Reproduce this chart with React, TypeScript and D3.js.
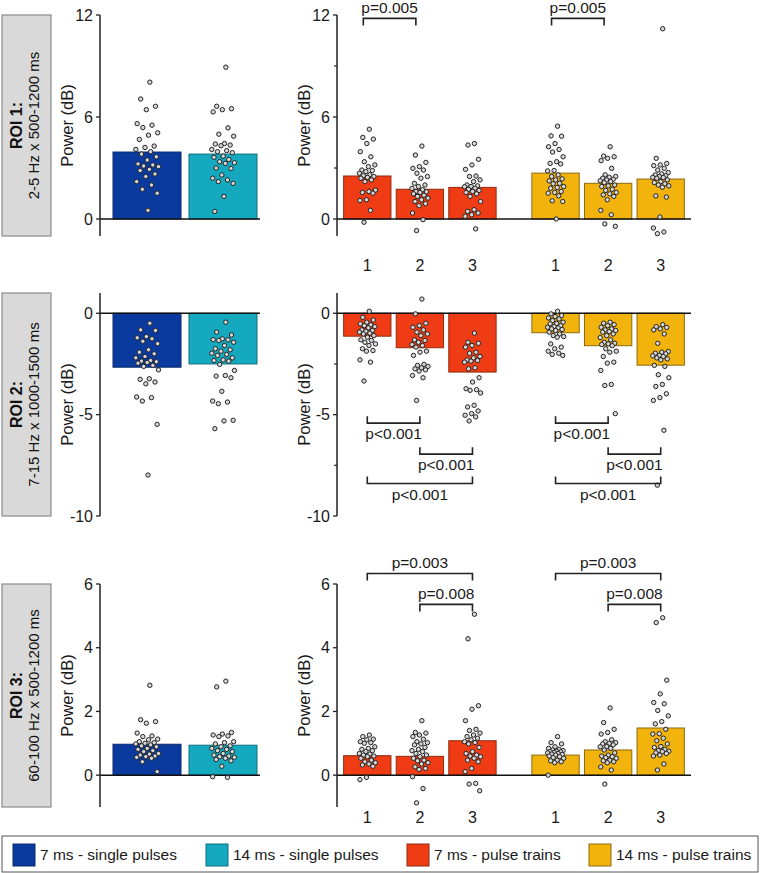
import React, { useEffect } from 'react';
import * as d3 from 'd3';

const FONT = '"Liberation Sans", Arial, sans-serif';
const W = 761;
const H = 873;

const singleConds = ['7 ms - single pulses', '14 ms - single pulses'];
const trainConds = ['7 ms - pulse trains', '14 ms - pulse trains'];
const trainCounts = ['1', '2', '3'];
const condColors = ['#0b3a9f', '#15a9bf', '#f03c14', '#f2b40c'];
const condStrokes = ['#0a2a6e', '#0e6f7e', '#8e2a0e', '#8a6a0e'];

const roiNames = ['ROI 1:', 'ROI 2:', 'ROI 3:'];
const roiRanges = ['2-5 Hz x 500-1200 ms', '7-15 Hz x 1000-1500 ms', '60-100 Hz x 500-1200 ms'];
const roiDomains = [[-1, 12], [-10, 1], [-1, 6]];
const roiTicks = [[0, 6, 12], [-10, -5, 0], [0, 2, 4, 6]];
const roiMinorTicks = [[3, 9], [-7.5, -2.5], []];

// bar heights (means)
const roi1SingleMeans = [3.94, 3.82];
const roi1TrainMeans = [[2.53, 1.75, 1.86], [2.7, 2.1, 2.35]];
const roi2SingleMeans = [-2.66, -2.5];
const roi2TrainMeans = [[-1.13, -1.7, -2.9], [-0.96, -1.6, -2.56]];
const roi3SingleMeans = [0.97, 0.94];
const roi3TrainMeans = [[0.61, 0.59, 1.08], [0.63, 0.79, 1.48]];

// individual subjects
const roi1Single7 = [8.05, 7.06, 6.63, 6.43, 5.61, 5.52, 5.38, 5.07, 4.93, 4.68, 4.29, 4.21, 4.09, 3.96, 3.82, 3.66, 3.47, 3.24, 3.18, 3.12, 3.08, 2.92, 2.85, 2.65, 2.5, 2.2, 2.0, 1.75, 1.52, 0.51];
const roi1Single14 = [8.93, 6.63, 6.49, 6.43, 6.3, 5.36, 4.99, 4.87, 4.44, 4.41, 4.35, 4.31, 4.09, 4.02, 3.96, 3.9, 3.7, 3.63, 3.5, 3.37, 3.31, 3.27, 3.0, 2.98, 2.59, 2.4, 2.3, 2.2, 2.1, 1.33, 0.45];
const roi1Train7 = [
  [5.28, 4.8, 4.7, 4.44, 3.96, 3.66, 3.37, 3.18, 3.08, 2.88, 2.85, 2.79, 2.69, 2.6, 2.55, 2.5, 2.45, 2.4, 2.3, 2.2, 1.7, 1.62, 1.56, 1.52, 1.13, 1.09, 0.51, -0.19],
  [4.29, 3.76, 3.33, 3.08, 2.98, 2.88, 2.69, 2.5, 2.4, 2.1, 2.0, 1.91, 1.8, 1.72, 1.62, 1.6, 1.56, 1.48, 1.4, 1.33, 1.23, 1.13, 1.03, 0.9, 0.78, 0.35, -0.04, -0.68],
  [4.44, 4.35, 3.51, 3.18, 2.92, 2.53, 2.5, 2.3, 2.2, 2.0, 1.95, 1.91, 1.9, 1.81, 1.75, 1.68, 1.62, 1.56, 1.48, 1.33, 1.03, 0.55, 0.45, 0.35, 0.25, 0.16, -0.58],
];
const roi1Train14 = [
  [5.46, 4.89, 4.87, 4.44, 4.25, 4.09, 3.94, 3.66, 3.37, 3.27, 3.24, 2.85, 2.83, 2.59, 2.5, 2.36, 2.3, 2.24, 2.1, 2.07, 1.91, 1.85, 1.81, 1.62, 1.56, 1.52, 1.36, 1.07, 1.03, 0.0],
  [4.25, 3.7, 3.66, 3.57, 3.43, 2.98, 2.6, 2.5, 2.46, 2.4, 2.34, 2.3, 2.25, 2.2, 2.14, 2.0, 1.95, 1.91, 1.75, 1.68, 1.56, 1.48, 1.42, 1.33, 1.13, 0.51, 0.25, -0.29, -0.43],
  [11.19, 3.57, 3.27, 3.18, 3.14, 2.98, 2.88, 2.73, 2.65, 2.59, 2.55, 2.5, 2.45, 2.44, 2.4, 2.3, 2.2, 2.14, 2.07, 2.0, 1.95, 1.87, 1.36, 1.29, 0.12, -0.53, -0.76, -0.86],
];

const roi2Single7 = [-0.49, -0.82, -0.85, -1.15, -1.21, -1.26, -1.38, -1.5, -1.8, -1.92, -2.0, -2.13, -2.2, -2.33, -2.36, -2.39, -2.43, -2.46, -2.57, -2.62, -2.79, -3.23, -3.26, -3.39, -3.48, -4.13, -4.16, -4.33, -5.48, -7.98];
const roi2Single14 = [-0.44, -0.93, -1.07, -1.26, -1.3, -1.31, -1.34, -1.43, -1.59, -1.75, -1.8, -1.87, -1.97, -2.03, -2.08, -2.2, -2.3, -2.33, -2.36, -2.52, -2.82, -3.07, -3.1, -3.18, -3.85, -4.33, -4.38, -4.46, -5.28, -5.31, -5.69];
const roi2Train7 = [
  [0.1, -0.2, -0.33, -0.44, -0.52, -0.57, -0.61, -0.66, -0.72, -0.82, -0.85, -0.89, -0.93, -0.98, -1.02, -1.1, -1.18, -1.31, -1.34, -1.43, -1.51, -1.59, -1.75, -1.84, -1.87, -2.3, -2.41, -3.34],
  [0.7, -0.03, -0.49, -0.61, -0.69, -0.82, -0.93, -1.02, -1.1, -1.31, -1.34, -1.43, -1.54, -1.59, -1.67, -1.87, -1.92, -2.08, -2.52, -2.57, -2.62, -2.69, -2.74, -2.79, -2.85, -3.07, -3.18, -4.3],
  [-0.98, -1.43, -1.48, -1.59, -1.67, -1.92, -1.97, -2.13, -2.2, -2.3, -2.33, -2.36, -2.41, -2.69, -2.74, -3.18, -3.39, -3.72, -3.77, -3.8, -3.93, -4.54, -4.62, -4.82, -4.95, -5.03, -5.11, -5.31],
];
const roi2Train14 = [
  [0.1, -0.03, -0.11, -0.16, -0.23, -0.28, -0.36, -0.44, -0.5, -0.52, -0.61, -0.65, -0.69, -0.72, -0.77, -0.8, -0.85, -0.93, -1.02, -1.1, -1.15, -1.18, -1.51, -1.67, -1.75, -1.87, -1.97, -2.03, -2.08],
  [-0.44, -0.49, -0.56, -0.61, -0.69, -0.77, -0.82, -0.85, -0.9, -0.93, -1.02, -1.1, -1.2, -1.31, -1.43, -1.48, -1.51, -1.54, -1.6, -1.75, -1.87, -1.92, -2.13, -2.41, -2.46, -2.82, -3.51, -3.56, -4.95],
  [-0.56, -0.66, -0.7, -0.77, -0.82, -1.02, -1.48, -1.89, -1.92, -1.97, -2.0, -2.08, -2.1, -2.13, -2.2, -2.25, -2.3, -2.57, -2.62, -3.03, -3.18, -3.51, -3.61, -3.97, -4.16, -4.3, -5.77, -8.48],
];

const roi3Single7 = [2.82, 1.74, 1.68, 1.63, 1.32, 1.23, 1.21, 1.13, 1.11, 1.05, 1.02, 1.0, 0.98, 0.95, 0.92, 0.89, 0.84, 0.81, 0.77, 0.74, 0.68, 0.66, 0.63, 0.6, 0.58, 0.56, 0.53, 0.42, 0.11];
const roi3Single14 = [2.95, 2.77, 1.34, 1.29, 1.26, 1.23, 1.21, 1.05, 1.02, 0.98, 0.92, 0.89, 0.84, 0.81, 0.77, 0.74, 0.68, 0.63, 0.6, 0.58, 0.56, 0.53, 0.49, 0.45, 0.28, -0.05, -0.07];
const roi3Train7 = [
  [1.26, 1.21, 1.13, 1.11, 1.05, 1.02, 1.0, 0.89, 0.84, 0.81, 0.77, 0.74, 0.68, 0.66, 0.63, 0.6, 0.58, 0.53, 0.47, 0.42, 0.39, 0.35, 0.32, 0.28, -0.07, -0.14],
  [1.71, 1.34, 1.32, 1.26, 1.21, 1.13, 1.05, 1.02, 0.98, 0.95, 0.87, 0.81, 0.77, 0.74, 0.68, 0.63, 0.58, 0.53, 0.47, 0.45, 0.39, 0.35, 0.26, 0.21, 0.18, -0.05, -0.42, -0.87],
  [5.05, 4.28, 2.18, 2.07, 1.71, 1.44, 1.4, 1.32, 1.26, 1.21, 1.16, 1.11, 1.05, 1.02, 0.98, 0.87, 0.74, 0.68, 0.63, 0.6, 0.58, 0.53, 0.47, 0.42, 0.21, 0.11, -0.26, -0.28, -0.49],
];
const roi3Train14 = [
  [1.21, 1.02, 0.98, 0.89, 0.84, 0.81, 0.79, 0.77, 0.75, 0.74, 0.73, 0.71, 0.7, 0.68, 0.66, 0.65, 0.63, 0.6, 0.58, 0.55, 0.53, 0.47, 0.45, 0.42, 0.39, 0.0],
  [2.11, 1.65, 1.44, 1.34, 1.29, 1.11, 1.05, 1.02, 1.0, 0.98, 0.95, 0.9, 0.89, 0.84, 0.79, 0.7, 0.63, 0.6, 0.58, 0.55, 0.53, 0.47, 0.45, 0.42, 0.39, 0.26, 0.16, -0.28],
  [4.94, 4.79, 2.98, 2.55, 2.28, 2.24, 2.03, 1.86, 1.68, 1.61, 1.44, 1.3, 1.29, 1.16, 1.08, 0.98, 0.9, 0.87, 0.81, 0.77, 0.75, 0.74, 0.7, 0.68, 0.63, 0.6, 0.35, 0.16],
];

// significance brackets: group index, from/to stimulus count, level (dB)
const roi1Brackets = [
  { group: 0, a: '1', b: '2', level: 11.8, label: 'p=0.005', above: true },
  { group: 1, a: '1', b: '2', level: 11.8, label: 'p=0.005', above: true },
];
const roi2Brackets = [
  { group: 0, a: '1', b: '2', level: -5.42, label: 'p<0.001', above: false },
  { group: 0, a: '2', b: '3', level: -6.95, label: 'p<0.001', above: false },
  { group: 0, a: '1', b: '3', level: -8.4, label: 'p<0.001', above: false },
  { group: 1, a: '1', b: '2', level: -5.42, label: 'p<0.001', above: false },
  { group: 1, a: '2', b: '3', level: -6.95, label: 'p<0.001', above: false },
  { group: 1, a: '1', b: '3', level: -8.4, label: 'p<0.001', above: false },
];
const roi3Brackets = [
  { group: 0, a: '1', b: '3', level: 6.33, label: 'p=0.003', above: true },
  { group: 0, a: '2', b: '3', level: 5.36, label: 'p=0.008', above: true },
  { group: 1, a: '1', b: '3', level: 6.33, label: 'p=0.003', above: true },
  { group: 1, a: '2', b: '3', level: 5.36, label: 'p=0.008', above: true },
];

const rowsData = [
  { singles: [roi1Single7, roi1Single14], singleMeans: roi1SingleMeans, trains: [roi1Train7, roi1Train14], trainMeans: roi1TrainMeans, brackets: roi1Brackets },
  { singles: [roi2Single7, roi2Single14], singleMeans: roi2SingleMeans, trains: [roi2Train7, roi2Train14], trainMeans: roi2TrainMeans, brackets: roi2Brackets },
  { singles: [roi3Single7, roi3Single14], singleMeans: roi3SingleMeans, trains: [roi3Train7, roi3Train14], trainMeans: roi3TrainMeans, brackets: roi3Brackets },
];

// layout
const rowLayout = [
  { top: 15, bottom: 236, countsY: 271, bracketShift: -4 },
  { top: 293, bottom: 516, countsY: null, bracketShift: 0 },
  { top: 584, bottom: 807, countsY: 823, bracketShift: 0 },
];
const leftAxisX = 100;
const rightAxisX = 337;

const xSingle = d3.scaleBand().domain(singleConds).range([109, 261]).paddingInner(0.105).paddingOuter(0.0526);
const xGroup = d3.scaleBand().domain(trainConds).range([341, 687]).paddingInner(0.162);
const xCount = d3.scaleBand().domain(trainCounts).range([0, xGroup.bandwidth()]).paddingInner(0.1).paddingOuter(0.05);

const jitter = (i: number, spread: number) => (((i * 0.6180339) % 1) - 0.5) * 2 * spread;

function Dots({ values, cx, spread, y }: any) {
  return (
    <g>
      {values.map((v: number, i: number) => (
        <circle key={i} cx={cx + jitter(i + 1, spread)} cy={y(v)} r={2.2}
          fill="#d6d6d6" stroke="#222" strokeWidth={1} />
      ))}
    </g>
  );
}

function YAxis({ x, y, ticks, minor, domain }: any) {
  return (
    <g>
      <line x1={x} x2={x} y1={y(domain[1])} y2={y(domain[0])} stroke="#222" strokeWidth={1.5} />
      {ticks.map((t: number) => (
        <g key={t}>
          <line x1={x - 4} x2={x} y1={y(t)} y2={y(t)} stroke="#222" strokeWidth={1.3} />
          <text x={x - 7} y={y(t)} dy="0.36em" textAnchor="end" fontSize={16} fill="#1a1a1a">{t}</text>
        </g>
      ))}
      {minor.map((t: number) => (
        <line key={t} x1={x - 3} x2={x} y1={y(t)} y2={y(t)} stroke="#222" strokeWidth={1.2} />
      ))}
      <text transform={`translate(${x - 33},${(y(domain[0]) + y(domain[1])) / 2}) rotate(-90)`}
        textAnchor="middle" dy="0.35em" fontSize={16.5} fill="#1a1a1a">Power (dB)</text>
    </g>
  );
}

function Row({ r }: { r: number }) {
  const lay = rowLayout[r];
  const dom = roiDomains[r];
  const data = rowsData[r];
  const y = d3.scaleLinear().domain(dom).range([lay.bottom, lay.top]);
  const y0 = y(0);
  const boxMid = (lay.top + lay.bottom) / 2;
  const barRect = (x0: number, w: number, v: number, ci: number, key: string) => (
    <rect key={key} x={x0} width={w} y={Math.min(y(v), y0)} height={Math.abs(y(v) - y0)}
      fill={condColors[ci]} stroke={condStrokes[ci]} strokeWidth={1} />
  );
  const cxTrain = (g: number, c: string) => (xGroup(trainConds[g]) as number) + (xCount(c) as number) + xCount.bandwidth() / 2;

  return (
    <g>
      {/* ROI label box */}
      <rect x={2} y={lay.top} width={49} height={lay.bottom - lay.top} fill="#d9d9d9" stroke="#8a8a8a" strokeWidth={1.2} />
      <text transform={`translate(16,${boxMid}) rotate(-90)`} textAnchor="middle" dy="0.35em" fontSize={16} fontWeight="bold" fill="#111">{roiNames[r]}</text>
      <text transform={`translate(34,${boxMid}) rotate(-90)`} textAnchor="middle" dy="0.35em" fontSize={15} fill="#111">{roiRanges[r]}</text>

      {/* single pulses panel */}
      {singleConds.map((c, i) => barRect(xSingle(c) as number, xSingle.bandwidth(), data.singleMeans[i], i, c))}
      <line x1={leftAxisX} x2={260} y1={y0} y2={y0} stroke="#111" strokeWidth={1.5} />
      {singleConds.map((c, i) => (
        <Dots key={c} values={data.singles[i]} cx={(xSingle(c) as number) + xSingle.bandwidth() / 2} spread={12} y={y} />
      ))}
      <YAxis x={leftAxisX} y={y} ticks={roiTicks[r]} minor={[]} domain={dom} />

      {/* pulse trains panel */}
      {trainConds.map((g, gi) => trainCounts.map((c, ci) =>
        barRect((xGroup(g) as number) + (xCount(c) as number), xCount.bandwidth(), data.trainMeans[gi][ci], gi + 2, g + c)))}
      <line x1={rightAxisX} x2={691} y1={y0} y2={y0} stroke="#111" strokeWidth={1.5} />
      {trainConds.map((g, gi) => trainCounts.map((c, ci) => (
        <Dots key={g + c} values={data.trains[gi][ci]} cx={cxTrain(gi, c)} spread={8.5} y={y} />
      )))}
      <YAxis x={rightAxisX} y={y} ticks={roiTicks[r]} minor={roiMinorTicks[r]} domain={dom} />

      {lay.countsY !== null && trainConds.map((g, gi) => trainCounts.map((c) => (
        <text key={g + c} x={cxTrain(gi, c)} y={lay.countsY as number} textAnchor="middle" fontSize={16} fill="#1a1a1a">{c}</text>
      )))}

      {data.brackets.map((b, i) => {
        const xa = cxTrain(b.group, b.a) + lay.bracketShift;
        const xb = cxTrain(b.group, b.b) + lay.bracketShift;
        const yl = y(b.level);
        const leg = b.above ? 7 : -7;
        return (
          <g key={i}>
            <path d={`M${xa},${yl + leg}V${yl}H${xb}V${yl + leg}`} fill="none" stroke="#222" strokeWidth={1.6} />
            <text x={(xa + xb) / 2} y={b.above ? yl - 5 : yl + 16} textAnchor="middle" fontSize={15.5} fill="#1a1a1a">{b.label}</text>
          </g>
        );
      })}
    </g>
  );
}

const legendLabels = [...singleConds, ...trainConds];
const legendX = [13, 206, 407, 589];

export default function App() {
  useEffect(() => {
    document.body.style.margin = '0';
  }, []);
  return (
    <svg width={W} height={H} style={{ display: 'block', fontFamily: FONT }}>
      <rect width={W} height={H} fill="#fff" />
      {[0, 1, 2].map((r) => <Row key={r} r={r} />)}
      <g>
        <rect x={2} y={836} width={756} height={36} fill="#fff" stroke="#555" strokeWidth={1} />
        {legendLabels.map((l, i) => (
          <g key={l}>
            <rect x={legendX[i]} y={844} width={22} height={22} fill={condColors[i]} stroke={condStrokes[i]} strokeWidth={1} />
            <text x={legendX[i] + 27} y={860} fontSize={15.5} fill="#1a1a1a">{l}</text>
          </g>
        ))}
      </g>
    </svg>
  );
}
